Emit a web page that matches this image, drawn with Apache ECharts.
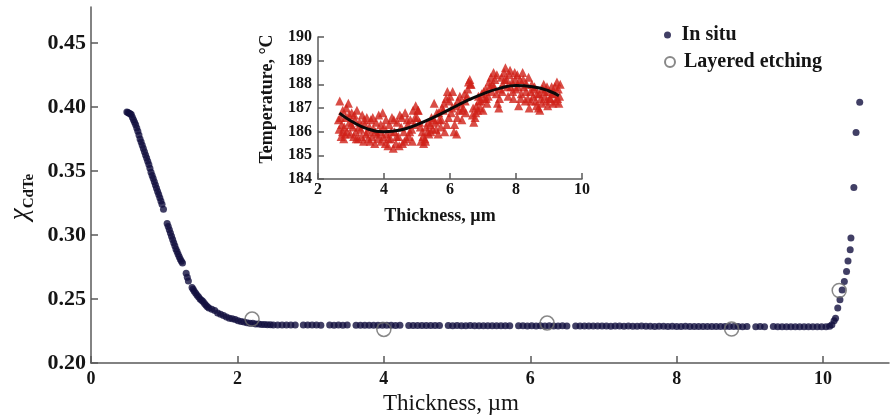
<!DOCTYPE html>
<html>
<head>
<meta charset="utf-8">
<title>CdTe composition profile</title>
<script src="https://cdn.jsdelivr.net/npm/echarts@6/dist/echarts.min.js"></script>
<style>
  html, body { margin: 0; padding: 0; background: #ffffff; }
  #chart { width: 890px; height: 417px; }
</style>
</head>
<body>
<div id="chart"></div>
<script>
// ---- Main plot: CdTe mole fraction vs. thickness ----
const mainXTicks = [0, 2, 4, 6, 8, 10];
const mainYTicks = [0.20, 0.25, 0.30, 0.35, 0.40, 0.45];

// In situ ellipsometric composition, [thickness µm, x_CdTe]
const inSitu = [
  [0.49, 0.396], [0.505, 0.3957], [0.52, 0.395], [0.535, 0.3947], [0.55, 0.394],
  [0.565, 0.392], [0.58, 0.390], [0.595, 0.388], [0.61, 0.386], [0.625, 0.3835],
  [0.64, 0.381], [0.655, 0.378], [0.67, 0.375], [0.685, 0.3725], [0.70, 0.370],
  [0.715, 0.3675], [0.73, 0.365], [0.745, 0.3625], [0.76, 0.360], [0.775, 0.3575],
  [0.79, 0.355], [0.805, 0.352], [0.82, 0.349], [0.835, 0.3465], [0.85, 0.344],
  [0.865, 0.3415], [0.88, 0.339], [0.895, 0.3365], [0.91, 0.334], [0.925, 0.3315],
  [0.94, 0.329], [0.955, 0.3265], [0.97, 0.324], [0.99, 0.320],
  [1.04, 0.309], [1.055, 0.3065], [1.07, 0.304], [1.085, 0.3015], [1.10, 0.299],
  [1.115, 0.2965], [1.13, 0.294], [1.145, 0.2915], [1.16, 0.289], [1.175, 0.287],
  [1.19, 0.285], [1.205, 0.283], [1.22, 0.281], [1.235, 0.2795], [1.25, 0.278],
  [1.30, 0.270], [1.315, 0.267], [1.33, 0.264],
  [1.38, 0.259], [1.395, 0.2575], [1.41, 0.256], [1.43, 0.2545], [1.45, 0.253],
  [1.47, 0.2515], [1.49, 0.250], [1.51, 0.249], [1.53, 0.248], [1.55, 0.2465],
  [1.57, 0.245], [1.59, 0.244], [1.61, 0.243], [1.65, 0.242], [1.69, 0.241], [1.73, 0.239],
  [1.77, 0.238], [1.81, 0.237], [1.85, 0.236], [1.89, 0.235], [1.93, 0.2345],
  [1.97, 0.234], [2.01, 0.233], [2.05, 0.2325], [2.09, 0.232], [2.13, 0.2315],
  [2.17, 0.231], [2.21, 0.231], [2.25, 0.2305], [2.29, 0.2305], [2.33, 0.230],
  [2.37, 0.230], [2.41, 0.2298], [2.45, 0.2298], [2.49, 0.2296],
  [2.55, 0.2296], [2.61, 0.2297], [2.67, 0.2296], [2.73, 0.2297], [2.79, 0.2296],
  [2.90, 0.2296], [2.96, 0.2297], [3.02, 0.2296], [3.08, 0.2296], [3.14, 0.2295],
  [3.26, 0.2296], [3.32, 0.2295], [3.38, 0.2296], [3.44, 0.2295], [3.50, 0.2296],
  [3.62, 0.2295], [3.68, 0.2295], [3.74, 0.2294], [3.80, 0.2295], [3.86, 0.2294],
  [3.92, 0.2294], [3.98, 0.2295], [4.04, 0.2294], [4.10, 0.2294], [4.16, 0.2293],
  [4.22, 0.2294],
  [4.34, 0.2293], [4.40, 0.2293], [4.46, 0.2292], [4.52, 0.2293], [4.58, 0.2292],
  [4.64, 0.2292], [4.70, 0.2293], [4.76, 0.2292],
  [4.88, 0.2292], [4.94, 0.2291], [5.00, 0.2292], [5.06, 0.2291], [5.12, 0.2291],
  [5.18, 0.2292], [5.24, 0.2291], [5.30, 0.2291], [5.36, 0.2290], [5.42, 0.2291],
  [5.48, 0.2290], [5.54, 0.2291], [5.60, 0.2290], [5.66, 0.2290], [5.72, 0.2291],
  [5.84, 0.2290], [5.90, 0.2290], [5.96, 0.2289], [6.02, 0.2290], [6.08, 0.2289],
  [6.14, 0.2290], [6.20, 0.2289], [6.26, 0.2290], [6.32, 0.2289], [6.38, 0.2289],
  [6.44, 0.2290], [6.50, 0.2289],
  [6.62, 0.2289], [6.68, 0.2288], [6.74, 0.2289], [6.80, 0.2288], [6.86, 0.2288],
  [6.92, 0.2289], [6.98, 0.2288], [7.04, 0.2288], [7.10, 0.2287], [7.16, 0.2288],
  [7.22, 0.2288], [7.28, 0.2287], [7.34, 0.2288], [7.40, 0.2287], [7.46, 0.2287],
  [7.52, 0.2288], [7.58, 0.2287], [7.64, 0.2287], [7.70, 0.2286], [7.76, 0.2287],
  [7.82, 0.2287], [7.88, 0.2286], [7.94, 0.2287], [8.00, 0.2286], [8.06, 0.2286],
  [8.12, 0.2287], [8.18, 0.2286], [8.24, 0.2286], [8.30, 0.2285], [8.36, 0.2286],
  [8.42, 0.2286], [8.48, 0.2285], [8.54, 0.2286], [8.60, 0.2285], [8.66, 0.2285],
  [8.72, 0.2286], [8.78, 0.2285], [8.84, 0.2285], [8.90, 0.2284], [8.96, 0.2285],
  [9.08, 0.2284], [9.14, 0.2285], [9.20, 0.2284],
  [9.32, 0.2285], [9.38, 0.2284], [9.44, 0.2284], [9.50, 0.2283], [9.56, 0.2284],
  [9.62, 0.2283], [9.68, 0.2284], [9.74, 0.2283], [9.80, 0.2283], [9.86, 0.2284],
  [9.92, 0.2283], [9.98, 0.2283], [10.04, 0.2284], [10.09, 0.2287], [10.12, 0.2299],
  [10.15, 0.2330], [10.17, 0.2350], [10.20, 0.2430], [10.23, 0.2494], [10.26, 0.2570],
  [10.29, 0.2637], [10.32, 0.2714], [10.34, 0.2796], [10.37, 0.2884], [10.38, 0.2977],
  [10.42, 0.3370], [10.45, 0.3800], [10.50, 0.4036]
];

// Composition from layer-by-layer etching
const layeredEtching = [
  [2.20, 0.2343], [4.00, 0.2262], [6.23, 0.2312], [8.75, 0.2265], [10.22, 0.2566]
];

// ---- Inset: growth temperature vs. thickness ----
const insetXTicks = [2, 4, 6, 8, 10];
const insetYTicks = [184, 185, 186, 187, 188, 189, 190];

const temperature = [
  [2.62, 186.5], [2.64, 186.1], [2.66, 187.3], [2.70, 185.8], [2.72, 186.3],
  [2.75, 186.9], [2.78, 185.7], [2.80, 186.2], [2.84, 186.6], [2.88, 186.0],
  [2.92, 187.2], [2.95, 186.4], [2.98, 185.9], [3.02, 186.8], [3.05, 186.2],
  [3.08, 185.8], [3.12, 186.5], [3.15, 186.0], [3.18, 186.9], [3.22, 185.7],
  [3.26, 186.4], [3.30, 186.1], [3.34, 186.7], [3.38, 185.6], [3.42, 186.3],
  [3.45, 185.9], [3.48, 186.6], [3.52, 185.7], [3.56, 186.2], [3.60, 186.5],
  [3.64, 185.8], [3.68, 186.1], [3.72, 185.5], [3.76, 186.4], [3.80, 185.9],
  [3.84, 186.7], [3.88, 186.0], [3.92, 185.6], [3.96, 186.8], [4.00, 186.2],
  [4.04, 185.5], [4.08, 185.9], [4.12, 185.4], [4.16, 186.3], [4.20, 185.7],
  [4.24, 186.6], [4.28, 185.3], [4.32, 186.0], [4.36, 185.5], [4.40, 186.4],
  [4.44, 185.8], [4.48, 186.7], [4.52, 186.2], [4.56, 185.5], [4.60, 186.0],
  [4.64, 186.8], [4.68, 185.7], [4.72, 186.3], [4.76, 185.8], [4.80, 186.5],
  [4.84, 186.1], [4.88, 186.9], [4.92, 186.3], [4.96, 187.1], [5.00, 186.6],
  [5.04, 186.9], [5.08, 186.4], [5.12, 185.6], [5.16, 186.0], [5.20, 185.5],
  [5.24, 185.7], [5.28, 186.2], [5.32, 186.0], [5.36, 185.9], [5.40, 186.3],
  [5.44, 186.6], [5.48, 186.1], [5.52, 187.2], [5.56, 186.4], [5.60, 186.8],
  [5.64, 185.9], [5.68, 186.5], [5.72, 186.2], [5.76, 187.0], [5.80, 186.9],
  [5.84, 186.0], [5.88, 187.4], [5.92, 187.7], [5.96, 186.6], [6.00, 187.5],
  [6.04, 186.8], [6.08, 187.7], [6.12, 186.0], [6.16, 187.1], [6.20, 185.9],
  [6.24, 187.3], [6.28, 186.9], [6.32, 187.2], [6.36, 186.5], [6.40, 187.0],
  [6.44, 187.6], [6.48, 186.8], [6.52, 187.5], [6.56, 188.1], [6.60, 188.2],
  [6.64, 188.0], [6.68, 186.7], [6.72, 186.4], [6.76, 186.6], [6.80, 187.1],
  [6.84, 186.9], [6.88, 187.3], [6.92, 187.0], [6.96, 187.6], [7.00, 186.9],
  [7.04, 187.4], [7.08, 187.8], [7.12, 187.2], [7.16, 187.5], [7.20, 187.9],
  [7.24, 188.3], [7.28, 188.0], [7.32, 188.5], [7.36, 188.2], [7.40, 187.6],
  [7.44, 187.2], [7.48, 187.0], [7.52, 187.8], [7.56, 188.3], [7.60, 188.0],
  [7.64, 188.5], [7.68, 188.7], [7.72, 188.2], [7.76, 187.5], [7.80, 188.4],
  [7.84, 187.9], [7.88, 188.1], [7.92, 187.4], [7.96, 188.5], [8.00, 187.8],
  [8.04, 188.4], [8.08, 187.1], [8.12, 188.2], [8.16, 187.6], [8.20, 188.5],
  [8.24, 187.9], [8.28, 187.3], [8.32, 188.0], [8.36, 187.4], [8.40, 187.0],
  [8.44, 187.7], [8.48, 188.0], [8.52, 187.5], [8.56, 187.9], [8.60, 187.3],
  [8.64, 187.6], [8.68, 187.0], [8.72, 186.9], [8.76, 187.4], [8.80, 187.8],
  [8.84, 188.0], [8.88, 187.5], [8.92, 187.3], [8.96, 187.1], [9.00, 187.7],
  [9.04, 187.4], [9.08, 187.9], [9.12, 187.2], [9.16, 187.6], [9.20, 187.3],
  [9.24, 188.1], [9.28, 187.8], [9.32, 187.5], [9.34, 188.0],
  [2.68, 186.6], [2.74, 186.0], [2.82, 185.9], [2.86, 187.0], [2.94, 186.7],
  [3.00, 186.3], [3.10, 186.7], [3.16, 185.7], [3.24, 186.2], [3.32, 185.8],
  [3.40, 186.5], [3.50, 186.0], [3.58, 185.6], [3.66, 186.6], [3.74, 186.0],
  [3.82, 185.7], [3.90, 186.3], [3.98, 185.8], [4.06, 186.5], [4.14, 185.7],
  [4.22, 186.0], [4.30, 186.5], [4.38, 185.8], [4.46, 185.4], [4.54, 186.6],
  [4.62, 185.6], [4.70, 186.5], [4.78, 186.0], [4.86, 185.6], [4.94, 186.6],
  [5.02, 186.9], [5.10, 186.2], [5.18, 185.8], [5.26, 185.6], [5.34, 186.4],
  [5.42, 186.0], [5.50, 186.5], [5.58, 186.1], [5.66, 186.8], [5.74, 186.5],
  [5.82, 187.2], [5.90, 186.3], [5.98, 187.3], [6.06, 187.0], [6.14, 186.3],
  [6.22, 186.6], [6.30, 187.5], [6.38, 186.9], [6.46, 187.3], [6.54, 187.8],
  [6.62, 188.0], [6.70, 187.0], [6.78, 186.8], [6.86, 187.5], [6.94, 187.3],
  [7.02, 187.7], [7.10, 187.4], [7.18, 188.1], [7.26, 187.7], [7.34, 187.9],
  [7.42, 188.4], [7.50, 187.4], [7.58, 187.7], [7.66, 188.2], [7.74, 187.9],
  [7.82, 188.6], [7.90, 187.7], [7.98, 188.2], [8.06, 187.9], [8.14, 187.4],
  [8.22, 188.2], [8.30, 187.7], [8.38, 188.3], [8.46, 187.3], [8.54, 187.8],
  [8.62, 187.1], [8.70, 187.6], [8.78, 187.2], [8.86, 187.7], [8.94, 187.9],
  [9.02, 187.4], [9.10, 187.6], [9.18, 187.9], [9.26, 187.4], [9.30, 187.2]
];

// Smooth fit through the temperature record
const temperatureFit = [
  [2.65, 186.78], [3.0, 186.45], [3.5, 186.12], [4.0, 186.00], [4.5, 186.07],
  [5.0, 186.30], [5.5, 186.60], [6.0, 186.95], [6.5, 187.30], [7.0, 187.60],
  [7.5, 187.83], [8.0, 187.95], [8.5, 187.90], [9.0, 187.72], [9.3, 187.52]
];

const SERIF = '"Liberation Serif", "DejaVu Serif", serif';
const AXIS_COLOR = '#5a5a5a';
const TEXT_COLOR = '#151515';

function axisBase(min, max, interval, ticks, labelOpts, tickLen) {
  return {
    type: 'value',
    min: min,
    max: max,
    interval: interval,
    splitLine: { show: false },
    axisLine: { show: true, onZero: false, lineStyle: { color: AXIS_COLOR, width: 1.5 } },
    axisTick: { show: true, inside: true, length: tickLen, customValues: ticks,
                lineStyle: { color: AXIS_COLOR, width: 1.5 } },
    axisLabel: Object.assign({ customValues: ticks, color: TEXT_COLOR,
                               fontFamily: SERIF, fontWeight: 'bold' }, labelOpts)
  };
}

const chart = echarts.init(document.getElementById('chart'), null, { renderer: 'canvas' });

chart.setOption({
  animation: false,
  backgroundColor: '#ffffff',
  grid: [
    { left: 91, top: 7, right: 1, bottom: 54, outerBoundsMode: 'none', containLabel: false },
    { left: 318, top: 37, width: 264, height: 142, outerBoundsMode: 'none', containLabel: false }
  ],
  xAxis: [
    Object.assign(axisBase(0, 10.9, 2, mainXTicks, { fontSize: 18, margin: 7 }, 7), {
      gridIndex: 0,
      name: 'Thickness, µm',
      nameLocation: 'middle',
      nameGap: 22,
      nameTextStyle: { fontFamily: SERIF, fontSize: 23, color: TEXT_COLOR, padding: [0, 78, 0, 0] }
    }),
    Object.assign(axisBase(2, 10, 2, insetXTicks, { fontSize: 16, margin: 3 }, 6), {
      gridIndex: 1,
      name: 'Thickness, µm',
      nameLocation: 'middle',
      nameGap: 28,
      nameTextStyle: { fontFamily: SERIF, fontSize: 18, fontWeight: 'bold', color: TEXT_COLOR,
                       padding: [0, 20, 0, 0] }
    })
  ],
  yAxis: [
    Object.assign(axisBase(0.20, 0.478, 0.05, mainYTicks,
      { fontSize: 22, margin: 5, formatter: v => v.toFixed(2) }, 7), {
      gridIndex: 0,
      name: '{c|χ}{s|CdTe}',
      nameLocation: 'middle',
      nameGap: 54,
      nameTextStyle: {
        padding: [0, 24, 0, 0],
        rich: {
          c: { fontFamily: SERIF, fontStyle: 'italic', fontSize: 27, color: TEXT_COLOR,
               verticalAlign: 'middle' },
          s: { fontFamily: SERIF, fontWeight: 'bold', fontSize: 15, color: TEXT_COLOR,
               lineHeight: 34, verticalAlign: 'bottom' }
        }
      }
    }),
    Object.assign(axisBase(184, 190, 1, insetYTicks, { fontSize: 16, margin: 6 }, 6), {
      gridIndex: 1,
      name: 'Temperature, °C',
      nameLocation: 'middle',
      nameGap: 42,
      nameTextStyle: { fontFamily: SERIF, fontSize: 18, fontWeight: 'bold', color: TEXT_COLOR,
                       padding: [0, 0, 0, 18] }
    })
  ],
  legend: [
    {
      data: ['In situ'],
      orient: 'vertical',
      left: 664, top: 25, padding: 0,
      itemWidth: 18, itemHeight: 7,
      textStyle: { fontFamily: SERIF, fontSize: 20, fontWeight: 'bold', color: TEXT_COLOR }
    },
    {
      data: ['Layered etching'],
      orient: 'vertical',
      left: 664, top: 52, padding: 0,
      itemWidth: 18, itemHeight: 10,
      textStyle: { fontFamily: SERIF, fontSize: 20, fontWeight: 'bold', color: TEXT_COLOR }
    }
  ],
  series: [
    {
      name: 'In situ',
      type: 'scatter',
      xAxisIndex: 0, yAxisIndex: 0,
      symbol: 'circle',
      symbolSize: 7,
      itemStyle: { color: '#120f3e' },
      data: inSitu,
      z: 2
    },
    {
      name: 'Layered etching',
      type: 'scatter',
      xAxisIndex: 0, yAxisIndex: 0,
      symbol: 'circle',
      symbolSize: 14,
      itemStyle: { color: 'rgba(255,255,255,0)', borderColor: '#6a6a6a', borderWidth: 1.5 },
      data: layeredEtching,
      z: 3
    },
    {
      name: 'Temperature',
      type: 'scatter',
      xAxisIndex: 1, yAxisIndex: 1,
      symbol: 'triangle',
      symbolSize: 9,
      itemStyle: { color: '#cf2018' },
      data: temperature,
      z: 2
    },
    {
      name: 'Temperature fit',
      type: 'line',
      xAxisIndex: 1, yAxisIndex: 1,
      smooth: true,
      showSymbol: false,
      lineStyle: { color: '#0a0a0a', width: 3 },
      data: temperatureFit,
      z: 3
    }
  ]
});
</script>
</body>
</html>
